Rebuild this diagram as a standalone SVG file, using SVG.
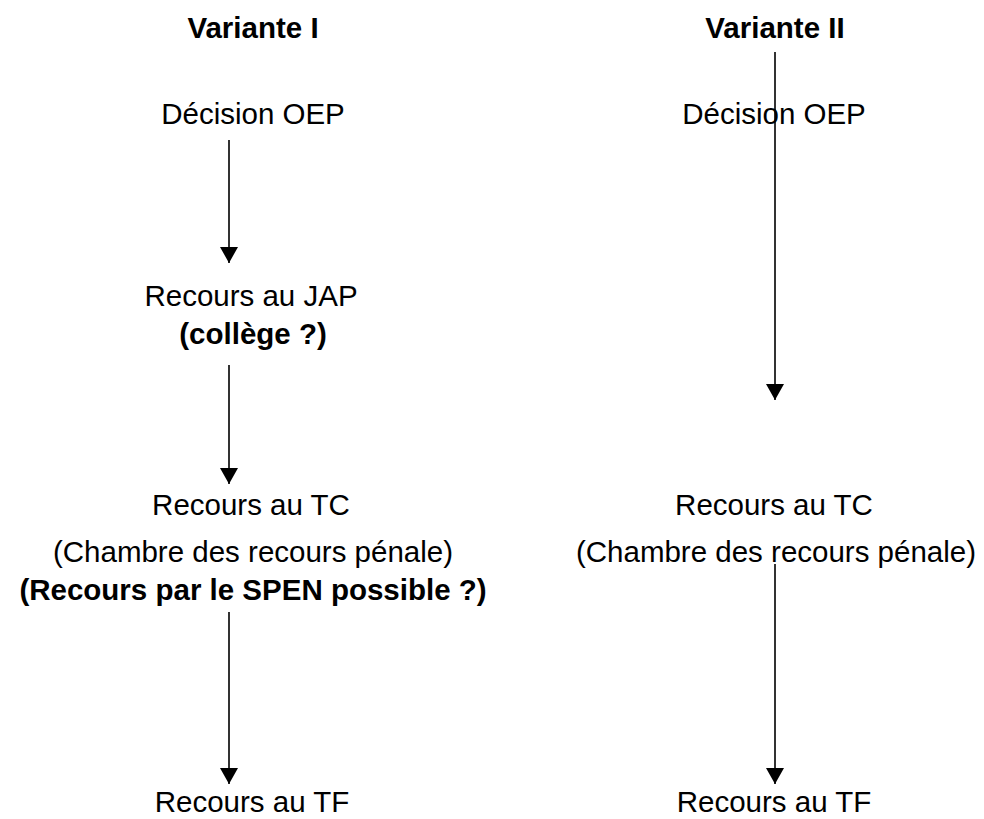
<svg xmlns="http://www.w3.org/2000/svg" width="984" height="819" viewBox="0 0 984 819">
  <style>
    text { font-family: "Liberation Sans", Arial, sans-serif; font-size: 29.5px; fill: #000; text-anchor: middle; }
    .b { font-weight: bold; }
    .edge { stroke: #333; stroke-width: 2; fill: none; marker-end: url(#arrow); }
  </style>
  <defs>
    <marker id="arrow" markerUnits="userSpaceOnUse" markerWidth="18" markerHeight="18" refX="16" refY="9" orient="auto">
      <path d="M0,0 L16,9 L0,18 z" fill="#000"/>
    </marker>
  </defs>
  <rect width="984" height="819" fill="#fff"/>

  <!-- connectors -->
  <g id="connectors">
    <line class="edge" x1="229" y1="140" x2="229" y2="263"/>
    <line class="edge" x1="229" y1="365" x2="229" y2="484"/>
    <line class="edge" x1="229" y1="612" x2="229" y2="784"/>
    <line class="edge" x1="775" y1="52" x2="775" y2="400"/>
    <line class="edge" x1="775" y1="564" x2="775" y2="784"/>
  </g>

  <!-- Variante I -->
  <g id="title-v1"><text class="b" x="253" y="38">Variante I</text></g>
  <g id="v1-decision"><text x="253" y="124">Décision OEP</text></g>
  <g id="v1-jap">
    <text x="251" y="306">Recours au JAP</text>
    <text class="b" x="253" y="344">(collège ?)</text>
  </g>
  <g id="v1-tc">
    <text x="251" y="515">Recours au TC</text>
    <text x="253" y="562">(Chambre des recours pénale)</text>
    <text class="b" x="253" y="600">(Recours par le SPEN possible ?)</text>
  </g>
  <g id="v1-tf"><text x="252" y="812">Recours au TF</text></g>

  <!-- Variante II -->
  <g id="title-v2"><text class="b" x="775" y="38">Variante II</text></g>
  <g id="v2-decision"><text x="774" y="124">Décision OEP</text></g>
  <g id="v2-tc">
    <text x="774" y="515">Recours au TC</text>
    <text x="776" y="562">(Chambre des recours pénale)</text>
  </g>
  <g id="v2-tf"><text x="774" y="812">Recours au TF</text></g>
</svg>
